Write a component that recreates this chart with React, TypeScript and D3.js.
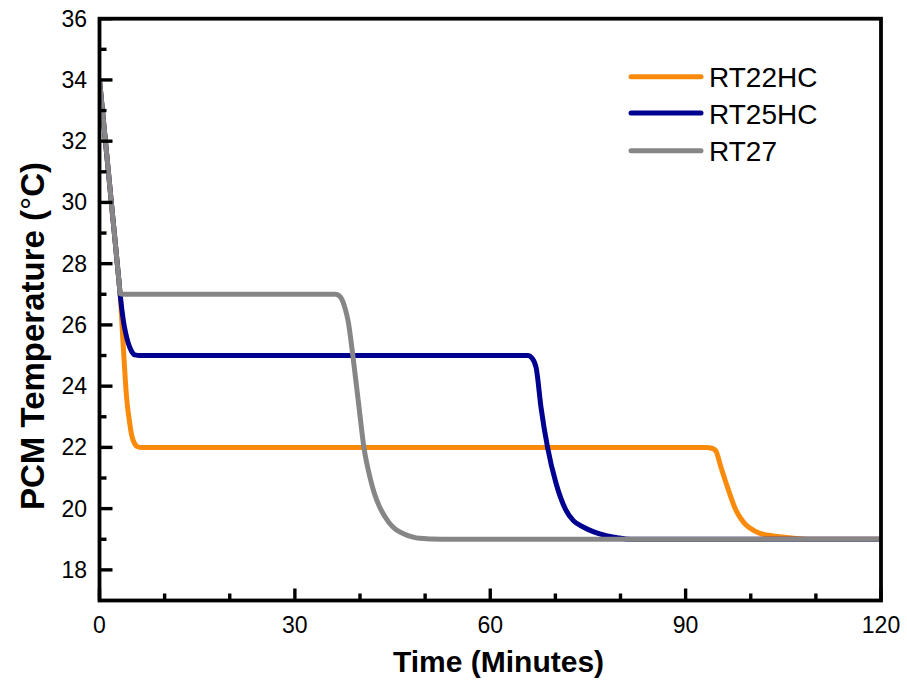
import React from "react";
import * as d3 from "d3";

const seriesNames = ["RT22HC", "RT25HC", "RT27"];
const seriesColors = ["#F98A0C", "#000090", "#868686"];

const rt22Time = [0, 1, 2, 3, 3.17, 3.65, 4.17, 4.6, 4.94, 5.4, 5.9, 6.5, 93.2, 93.9, 94.6, 95.4, 96.4, 97.7, 98.5, 99.25, 100.2, 101.3, 102.8, 104.4, 107.4, 110, 120];
const rt22Temp = [34, 31.8, 29.6, 27.4, 27, 25.3, 23.6, 22.85, 22.4, 22.12, 22.02, 22, 22, 21.98, 21.9, 21.37, 20.72, 19.96, 19.67, 19.47, 19.32, 19.2, 19.13, 19.08, 19.02, 19, 19];

const rt25Time = [0, 1, 2, 3, 3.17, 3.65, 4.0, 4.42, 4.9, 5.44, 6.2, 65.8, 66.4, 67.05, 67.8, 68.8, 70.1, 71.6, 72.8, 74.2, 75.8, 77.8, 79.5, 81.5, 120];
const rt25Temp = [34, 31.8, 29.6, 27.4, 27, 26.16, 25.75, 25.4, 25.15, 25.02, 25, 25, 24.92, 24.6, 23.3, 22, 20.83, 19.96, 19.6, 19.41, 19.25, 19.12, 19.05, 19, 19];

const rt27Time = [0, 1, 2, 3, 3.17, 3.6, 36.2, 36.8, 37.3, 37.7, 38.2, 38.9, 39.8, 40.6, 41.5, 42.2, 43.0, 43.8, 44.5, 45.5, 46.6, 48, 49.1, 51, 54, 120];
const rt27Temp = [34, 31.8, 29.6, 27.4, 27.02, 27, 27, 26.95, 26.8, 26.55, 26.1, 25, 23.4, 22, 21.05, 20.5, 20.06, 19.75, 19.53, 19.32, 19.19, 19.08, 19.03, 19.01, 19, 19];

const xMajorTicks = [0, 30, 60, 90, 120];
const xMinorTicks = [10, 20, 40, 50, 70, 80, 100, 110];
const yMajorTicks = [18, 20, 22, 24, 26, 28, 30, 32, 34, 36];
const yMinorTicks = [19, 21, 23, 25, 27, 29, 31, 33, 35];

const FONT = "'Liberation Sans', Arial, sans-serif";

export default function App() {
  const W = 907;
  const H = 685;
  const left = 99.5;
  const right = 881;
  const top = 18.7;
  const bottom = 600.5;

  const x = d3.scaleLinear().domain([0, 120]).range([left, right]);
  const y = d3.scaleLinear().domain([17, 36]).range([bottom, top]);

  const line = d3
    .line<[number, number]>()
    .x((d) => x(d[0]))
    .y((d) => y(d[1]))
    .curve(d3.curveMonotoneX);

  const series = [
    rt22Time.map((t, i) => [t, rt22Temp[i]] as [number, number]),
    rt25Time.map((t, i) => [t, rt25Temp[i]] as [number, number]),
    rt27Time.map((t, i) => [t, rt27Temp[i]] as [number, number]),
  ];

  const legendY = [76.7, 113, 150.7];

  return (
    <svg
      width={W}
      height={H}
      style={{ position: "absolute", left: 0, top: 0, background: "#fff" }}
      fontFamily={FONT}
    >
      <rect x={0} y={0} width={W} height={H} fill="#fff" />
      <defs>
        <clipPath id="plotclip">
          <rect x={left} y={top} width={right - left} height={bottom - top} />
        </clipPath>
      </defs>

      {/* series */}
      <g clipPath="url(#plotclip)">
        {series.map((s, i) => (
          <path
            key={seriesNames[i]}
            d={line(s) || ""}
            fill="none"
            stroke={seriesColors[i]}
            strokeWidth={5}
            strokeLinejoin="round"
            strokeLinecap="round"
          />
        ))}
      </g>

      {/* ticks */}
      {yMajorTicks.map((v) => (
        <line key={"ym" + v} x1={left} x2={left + 13} y1={y(v)} y2={y(v)} stroke="#000" strokeWidth={3.4} />
      ))}
      {yMinorTicks.map((v) => (
        <line key={"yn" + v} x1={left} x2={left + 7} y1={y(v)} y2={y(v)} stroke="#000" strokeWidth={3.4} />
      ))}
      {xMajorTicks.map((v) => (
        <line key={"xm" + v} x1={x(v)} x2={x(v)} y1={bottom} y2={bottom - 12} stroke="#000" strokeWidth={3.4} />
      ))}
      {xMinorTicks.map((v) => (
        <line key={"xn" + v} x1={x(v)} x2={x(v)} y1={bottom} y2={bottom - 7} stroke="#000" strokeWidth={3.4} />
      ))}

      {/* frame */}
      <rect x={left} y={top} width={right - left} height={bottom - top} fill="none" stroke="#000" strokeWidth={3.8} />

      {/* tick labels */}
      {yMajorTicks.map((v) => (
        <text key={"yl" + v} x={87} y={y(v)} dy="0.35em" textAnchor="end" fontSize={23} fill="#000">
          {v}
        </text>
      ))}
      {xMajorTicks.map((v) => (
        <text key={"xl" + v} x={x(v)} y={632.5} textAnchor="middle" fontSize={23} fill="#000">
          {v}
        </text>
      ))}

      {/* axis titles */}
      <text x={498.5} y={672} textAnchor="middle" fontSize={30} fontWeight="bold" fill="#000">
        Time (Minutes)
      </text>
      <text
        transform={`translate(43.5, 336) rotate(-90)`}
        textAnchor="middle"
        fontSize={33}
        fontWeight="bold"
        fill="#000"
      >
        PCM Temperature (<tspan fontWeight="normal">°</tspan>C)
      </text>

      {/* legend */}
      {seriesNames.map((name, i) => (
        <g key={"lg" + name}>
          <line x1={631} x2={701} y1={legendY[i]} y2={legendY[i]} stroke={seriesColors[i]} strokeWidth={5} strokeLinecap="round" />
          <text x={709} y={legendY[i] + 10.5} fontSize={28} fill="#000">
            {name}
          </text>
        </g>
      ))}
    </svg>
  );
}
